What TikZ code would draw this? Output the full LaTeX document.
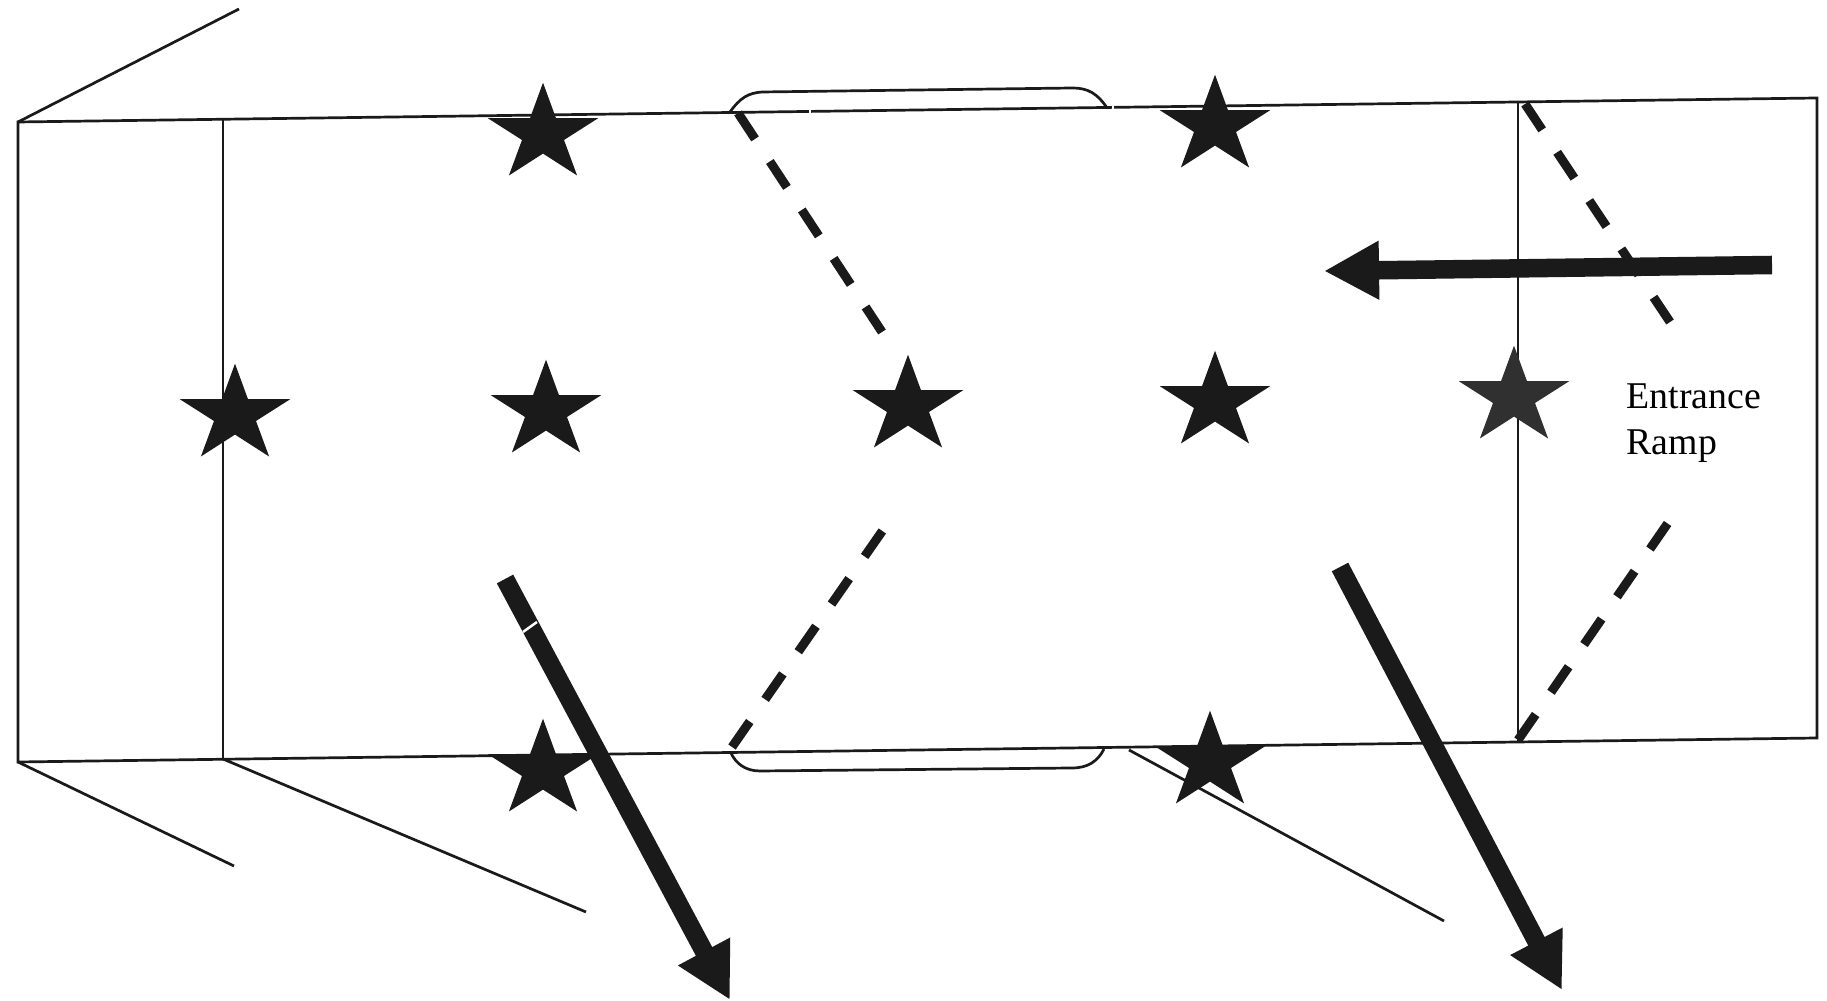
\documentclass[tikz,border=0pt]{standalone}
\usepackage{fontspec}
\setmainfont{Liberation Serif}
\usetikzlibrary{arrows.meta}

\definecolor{inkdark}{HTML}{1A1A1A}
\definecolor{inkgray}{HTML}{303030}

\tikzset{
    wall/.style={inkdark, line width=0.027cm},
    ramp/.style={inkdark, line width=0.09cm, dash pattern=on 0.31cm off 0.27cm},
    route/.style={inkdark, line width=0.185cm, -{Triangle[length=0.55cm,width=0.55cm]}},
    scanflaw/.style={white, line width=0.025cm}
}

\begin{document}
\begin{tikzpicture}[x=0.01cm, y=-0.01cm]
    \useasboundingbox (0,0) rectangle (1827,1001);

    % corners of the lane and of the two cross lines
    \coordinate (topleft) at (18,122);
    \coordinate (topright) at (1817,98);
    \coordinate (botleft) at (18,762);
    \coordinate (botright) at (1817,738);
    \coordinate (crosstopa) at (223,119);
    \coordinate (crossbota) at (223,759);
    \coordinate (crosstopb) at (1518,102);
    \coordinate (crossbotb) at (1518,741);

    % outline and cross lines
    \draw[wall] (topleft) -- (topright) -- (botright) -- (botleft) -- cycle;
    \draw[wall] (crosstopa) -- (crossbota);
    \draw[wall] (crosstopb) -- (crossbotb);

    % lines running off the lane
    \draw[wall] (topleft) -- (239,9);
    \draw[wall] (botleft) -- (234,866);
    \draw[wall] (crossbota) -- (586,912);
    \draw[wall] (1129,750) -- (1444,921);

    % the two rounded bays
    \draw[wall] (730,112) .. controls (740,98) and (748,93) .. (762,92)
        -- (1073,88) .. controls (1088,88) and (1098,94) .. (1107,108);
    \draw[wall] (731,753) .. controls (736,764) and (746,771) .. (760,771)
        -- (1072,768) .. controls (1088,768) and (1098,761) .. (1104,749);

    % dashed ramps
    \draw[ramp] (738,113) -- (882,332);
    \draw[ramp] (732,747) -- (883,530);
    \draw[ramp] (1525,104) -- (1670,322);
    \draw[ramp] (1518,740) -- (1670,520);

    % 9 stars: middle row, then top and bottom
    \foreach \x/\y/\c in {235/415/inkdark, 546/411/inkdark, 908/406/inkdark,
                          1215/402/inkdark, 1514/397/inkgray, 543/134/inkdark,
                          1215/126/inkdark, 543/770/inkdark, 1210/762/inkdark} {
        \fill[\c, shift={(\x,\y)}] (0,-51.3) -- (13,-15.8) -- (55.2,-15.8) -- (21,6)
            -- (34.1,41.5) -- (0,19.6) -- (-34.1,41.5) -- (-21,6)
            -- (-55.2,-15.8) -- (-13,-15.8) -- cycle;
    }

    % thick arrows
    \coordinate (tailin) at (1772,265);
    \coordinate (tipin) at (1324,271);
    \coordinate (tailleft) at (505,579);
    \coordinate (tipleft) at (730,1000);
    \coordinate (tailright) at (1340,567);
    \coordinate (tipright) at (1562,990);
    \draw[route] (tailin) -- (tipin);
    \draw[route] (tailleft) -- (tipleft);
    \draw[route] (tailright) -- (tipright);

    % small breaks left by the scan
    \draw[scanflaw] (810,108) -- (810,114);
    \draw[scanflaw] (1113,104) -- (1113,110);
    \draw[scanflaw] (523,632) -- (537,622);

    \node[anchor=base west, inner sep=0pt, align=left,
        font=\fontsize{10.75}{13.1}\selectfont] (label) at (1626,455) {Entrance\\Ramp};
\end{tikzpicture}
\end{document}
